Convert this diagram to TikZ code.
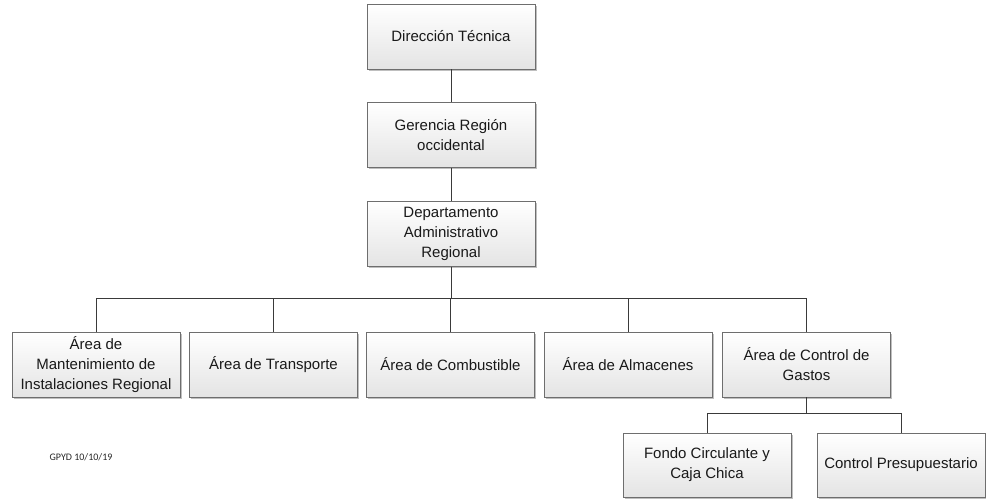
\documentclass[tikz,border=0pt]{standalone}
\usepackage{fontspec}
\setmainfont{Liberation Sans}
\newfontfamily\notefont{Carlito}
\usetikzlibrary{shadows}
\definecolor{boxline}{HTML}{6E6E6E}
\definecolor{wire}{HTML}{3A3A3A}
\definecolor{boxlow}{HTML}{E4E4E4}
\begin{document}
\begin{tikzpicture}[x=1pt,y=-1pt,
  unit/.style={draw=boxline, line width=0.8pt, top color=white, bottom color=boxlow,
    minimum width=168pt, minimum height=65pt, inner sep=0pt, align=center,
    font=\fontsize{15}{20}\selectfont, text=black!90,
    drop shadow={shadow xshift=1.5pt, shadow yshift=-1.5pt, opacity=0.25, fill=black}},
  link/.style={draw=wire, line width=0.9pt}]
\useasboundingbox (0,0) rectangle (986,499);

% upper chain
\node[unit] (dt)  at (451,36.5)  {Dirección Técnica};
\node[unit] (gr)  at (451,135)   {Gerencia Región\\occidental};
\node[unit] (dep) at (451,234)   {Departamento\\Administrativo\\Regional};

% areas
\node[unit] (a1) at (96,364.5)    {Área de\\Mantenimiento de\\Instalaciones Regional};
\node[unit] (a2) at (273.5,364.5) {Área de Transporte};
\node[unit] (a3) at (450.5,364.5) {Área de Combustible};
\node[unit] (a4) at (628,364.5)   {Área de Almacenes};
\node[unit] (a5) at (806.5,364.5) {Área de Control de\\Gastos};

% sections under expense control
\node[unit, minimum height=64pt] (s1) at (707,465) {Fondo Circulante y\\Caja Chica};
\node[unit, minimum height=64pt] (s2) at (901,465) {Control Presupuestario};

\node[font=\notefont\fontsize{10}{12}\selectfont, text=black!85] (note) at (81,457) {GPYD 10/10/19};

% bus levels
\coordinate (busA) at (0,298);
\coordinate (busB) at (0,413);

\draw[link] (dt.south) -- (gr.north);
\draw[link] (gr.south) -- (dep.north);
\foreach \n in {a1,a2,a3,a4,a5}
  \draw[link] (dep.south) -- (dep.south |- busA) -| (\n.north);
\foreach \n in {s1,s2}
  \draw[link] (a5.south) -- (a5.south |- busB) -| (\n.north);
\end{tikzpicture}
\end{document}
